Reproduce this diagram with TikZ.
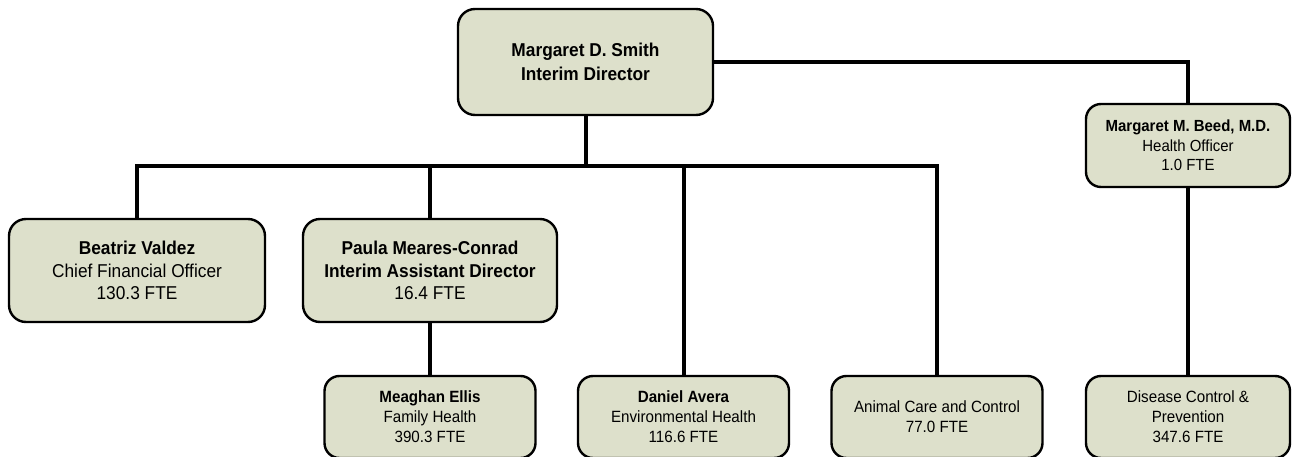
\documentclass[tikz,border=0pt]{standalone}
\usepackage{fontspec}
\setmainfont{Liberation Sans}[FakeStretch=0.93]
\definecolor{boxfill}{RGB}{221,224,203}
\begin{document}
\begin{tikzpicture}[x=1pt,y=-1pt,
  orgbox/.style={draw=black, line width=2.4pt, fill=boxfill, rounded corners=17pt,
    rectangle, align=center, inner sep=0pt, text=black},
  bigbox/.style={orgbox, font=\fontsize{18.6}{22.3}\selectfont},
  smallbox/.style={orgbox, rounded corners=15pt, font=\fontsize{16.3}{20}\selectfont},
  link/.style={line width=4pt, line cap=rect}]
\useasboundingbox (0,0) rectangle (1292,457);
% nodes
\node[bigbox, minimum width=255pt, minimum height=106pt, font=\fontsize{18.6}{24}\selectfont\bfseries]
  (top) at (585.5,62) {Margaret D. Smith\\Interim Director};
\node[smallbox, minimum width=204pt, minimum height=83pt, font=\fontsize{16.1}{19.3}\selectfont]
  (beed) at (1188,145.5) {\textbf{Margaret M. Beed, M.D.}\\Health Officer\\1.0 FTE};
\node[bigbox, minimum width=256pt, minimum height=103pt]
  (beatriz) at (137,270.5) {\textbf{Beatriz Valdez}\\Chief Financial Officer\\130.3 FTE};
\node[bigbox, minimum width=254pt, minimum height=103pt]
  (paula) at (430,270.5) {\textbf{Paula Meares-Conrad}\\\textbf{Interim Assistant Director}\\16.4 FTE};
\node[smallbox, minimum width=211pt, minimum height=82pt]
  (meaghan) at (430,417) {\textbf{Meaghan Ellis}\\Family Health\\390.3 FTE};
\node[smallbox, minimum width=211pt, minimum height=82pt]
  (daniel) at (683.5,417) {\textbf{Daniel Avera}\\Environmental Health\\116.6 FTE};
\node[smallbox, minimum width=211pt, minimum height=82pt]
  (animal) at (937,417) {Animal Care and Control\\77.0 FTE};
\node[smallbox, minimum width=204pt, minimum height=82pt]
  (disease) at (1188,417) {Disease Control \&\\Prevention\\347.6 FTE};
% bus
\coordinate (bus) at (0,166);
% connectors
\draw[link] (top.south) -- (top.south |- bus);
\draw[link] (beatriz.north) |- (animal.north |- bus) -- (animal.north);
\draw[link] (paula.north) -- (paula.north |- bus);
\draw[link] (daniel.north) -- (daniel.north |- bus);
\draw[link] (top.east) -| (beed.north);
\draw[link] (beed.south) -- (disease.north);
\draw[link] (paula.south) -- (meaghan.north);
\end{tikzpicture}
\end{document}
